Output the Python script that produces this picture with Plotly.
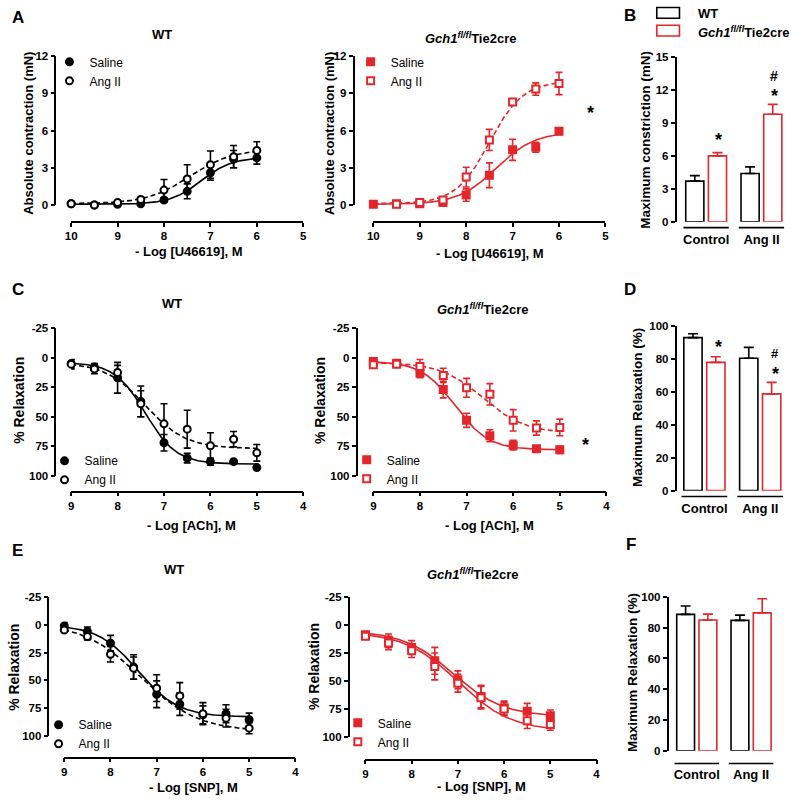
import numpy as np
import plotly.graph_objects as go

RED = '#E3262B'
BLK = '#000000'
FONT = 'Liberation Sans, Arial, sans-serif'
W, H = 800, 802

# ---------------- data ----------------
# Panel A : U46619 contraction (mN)
logU = [10, 9.5, 9, 8.5, 8, 7.5, 7, 6.5, 6]
A_wt_sal = [0.1, 0.0, 0.05, 0.1, 0.4, 1.1, 2.6, 3.7, 3.8]
A_wt_sal_err = [0.05, 0.05, 0.05, 0.05, 0.15, 0.6, 0.6, 0.7, 0.5]
A_wt_ang = [0.1, 0.0, 0.2, 0.45, 1.2, 2.1, 3.25, 3.9, 4.4]
A_wt_ang_err = [0.05, 0.05, 0.1, 0.15, 0.85, 1.15, 1.1, 0.9, 0.7]
A_ko_sal = [0.05, 0.1, 0.1, 0.2, 0.8, 2.4, 4.45, 4.65, 5.95]
A_ko_sal_err = [0.05, 0.05, 0.05, 0.1, 0.5, 1.0, 0.85, 0.4, 0.25]
logU_ko_ang = [9.5, 9, 8.5, 8, 7.5, 7, 6.5, 6]
A_ko_ang = [0.05, 0.2, 0.4, 2.25, 5.25, 8.3, 9.35, 9.8]
A_ko_ang_err = [0.05, 0.1, 0.2, 0.8, 0.85, 0.2, 0.5, 0.9]

# Panel C : ACh relaxation (%)
logACh = [9, 8.5, 8, 7.5, 7, 6.5, 6, 5.5, 5]
C_wt_sal = [5, 8, 17, 37, 72, 85, 88, 88, 93]
C_wt_sal_err = [3, 3, 13, 13, 7, 4, 3, 1, 1]
C_wt_ang = [5.5, 9.5, 12.5, 39, 56, 60.5, 74.5, 69, 80.5]
C_wt_ang_err = [4, 4, 6, 11, 17, 16, 11, 6.5, 7]
C_ko_sal = [3.3, 4.7, 13, 27, 53, 66, 74, 77, 78]
C_ko_sal_err = [2, 2, 4, 7, 6, 5, 4, 1, 3]
C_ko_ang = [6, 5.5, 7.5, 15, 25.5, 31, 53, 59.5, 59]
C_ko_ang_err = [3, 2, 6, 6, 8, 9, 9, 6, 7]

# Panel E : SNP relaxation (%)
logSNP = [9, 8.5, 8, 7.5, 7, 6.5, 6, 5.5, 5]
E_wt_sal = [1, 6, 16.5, 38, 62.5, 71.5, 81, 80, 85.5]
E_wt_sal_err = [3, 4, 7, 11, 12, 10, 8, 8, 6]
E_wt_ang = [4.7, 10.6, 26.5, 39, 57, 64, 80, 84, 93]
E_wt_ang_err = [2, 3, 7, 10, 12, 12, 10, 8, 5]
E_ko_sal = [8.8, 14, 20, 32, 49, 64, 74, 77, 81]
E_ko_sal_err = [3, 6, 6, 12, 8, 10, 6, 7, 5]
E_ko_ang = [10, 16, 23, 37, 52, 65, 75, 85.5, 89]
E_ko_ang_err = [3, 6, 6, 12, 8, 10, 6, 7, 5]

# fitted sigmoid parameters: (value at low conc, value at high conc, -logEC50, hill)
fit = {
    'A_wt_sal': (0.05, 3.85, 7.2, 1.3),
    'A_wt_ang': (0.1, 4.5, 7.45, 0.95),
    'A_ko_sal': (0.05, 5.9, 7.35, 1.05),
    'A_ko_ang': (0.1, 10.0, 7.5, 1.2),
    'C_wt_sal': (4, 90, 7.4, 1.3),
    'C_wt_ang': (4, 77, 7.4, 1.0),
    'C_ko_sal': (3, 78, 7.25, 1.2),
    'C_ko_ang': (4, 64, 6.65, 0.95),
    'E_wt_sal': (0, 83, 7.4, 1.0),
    'E_wt_ang': (-2, 96, 7.35, 0.7),
    'E_ko_sal': (5, 82, 7.1, 0.8),
    'E_ko_ang': (6, 95, 7.0, 0.75),
}

# Bar panels
groups = ['Control', 'Ang II']
B_wt = [3.7, 4.4];  B_wt_err = [0.5, 0.6]
B_ko = [6.0, 9.8];  B_ko_err = [0.3, 0.9]
D_wt = [93, 80.5];  D_wt_err = [2.4, 6.6]
D_ko = [78, 58.8];  D_ko_err = [3.4, 7]
F_wt = [88.7, 84.8]; F_wt_err = [5.5, 3.4]
F_ko = [85, 89.7];  F_ko_err = [3.9, 9.2]

KO_NAME = '<i>Gch1</i><sup><i>fl/fl</i></sup>Tie2cre'
relax_ticks = [-25, 0, 25, 50, 75, 100]
relax_labels = ['-25', '0', '25', '50', '75', '100']

# ---------------- helpers ----------------
def fx(px):
    return px / W

def fy(py):
    return 1 - py / H

def sigmoid(x, p):
    lo, hi, mid, h = p
    x = np.asarray(x, dtype=float)
    return lo + (hi - lo) / (1 + 10 ** ((x - mid) * h))

tickfont = dict(family=FONT, size=11.5, color=BLK, weight='bold')
axis_common = dict(showline=True, linecolor=BLK, linewidth=1.6, ticks='outside', ticklen=4,
                   tickwidth=1.6, tickcolor=BLK, showgrid=False, zeroline=False,
                   tickfont=tickfont)

fig = go.Figure()
layout = {}
annotations = []
shapes = []

def ann(text, xpx, ypx, size=13, bold=True, angle=0, color=BLK, xanchor='center'):
    annotations.append(dict(text=text, x=fx(xpx), y=fy(ypx), xref='paper', yref='paper',
                            showarrow=False, textangle=angle, xanchor=xanchor, yanchor='middle',
                            font=dict(family=FONT, size=size, color=color,
                                      weight='bold' if bold else 'normal')))

# ---------------- curve panels ----------------
panels = [
    dict(i=1, xr=[10, 5], xp=(66, 301), yr=[0, 12], yp=(202, 51), yax=50, xax=219,
         xt=[10, 9, 8, 7, 6, 5], yt=[0, 3, 6, 9, 12], col=BLK, sym='circle',
         s=(logU, A_wt_sal, A_wt_sal_err, 'A_wt_sal'), a=(logU, A_wt_ang, A_wt_ang_err, 'A_wt_ang'),
         cx=(10, 6), leg=(68, 63), ldy=-3, adash='5px,3px'),
    dict(i=2, xr=[10, 5], xp=(372, 607), yr=[0, 12], yp=(202, 51), yax=352, xax=219,
         xt=[10, 9, 8, 7, 6, 5], yt=[0, 3, 6, 9, 12], col=RED, sym='square',
         s=(logU, A_ko_sal, A_ko_sal_err, 'A_ko_sal'), a=(logU_ko_ang, A_ko_ang, A_ko_ang_err, 'A_ko_ang'),
         cx=(10, 6), leg=(373, 63), ldy=-3, adash='5px,3px'),
    dict(i=4, xr=[9, 4], xp=(66, 301), yr=[100, -25], yp=(477, 327), yax=50, xax=493,
         xt=[9, 8, 7, 6, 5, 4], yt=relax_ticks, col=BLK, sym='circle',
         s=(logACh, C_wt_sal, C_wt_sal_err, 'C_wt_sal'), a=(logACh, C_wt_ang, C_wt_ang_err, 'C_wt_ang'),
         cx=(9, 5), leg=(63, 460), ldy=5, adash='5px,3px'),
    dict(i=5, xr=[9, 4], xp=(372, 608), yr=[100, -25], yp=(477, 327), yax=355, xax=493,
         xt=[9, 8, 7, 6, 5, 4], yt=relax_ticks, col=RED, sym='square',
         s=(logACh, C_ko_sal, C_ko_sal_err, 'C_ko_sal'), a=(logACh, C_ko_ang, C_ko_ang_err, 'C_ko_ang'),
         cx=(9, 5), leg=(369, 459), ldy=5, adash='5px,3px'),
    dict(i=7, xr=[9, 4], xp=(59, 293), yr=[100, -25], yp=(741, 600), yax=43, xax=763,
         xt=[9, 8, 7, 6, 5, 4], yt=relax_ticks, col=BLK, sym='circle',
         s=(logSNP, E_wt_sal, E_wt_sal_err, 'E_wt_sal'), a=(logSNP, E_wt_ang, E_wt_ang_err, 'E_wt_ang'),
         cx=(9, 5), leg=(57, 725), ldy=8, adash='5px,3px'),
    dict(i=8, xr=[9, 4], xp=(364, 598), yr=[100, -25], yp=(742, 600), yax=347, xax=765,
         xt=[9, 8, 7, 6, 5, 4], yt=relax_ticks, col=RED, sym='square',
         s=(logSNP, E_ko_sal, E_ko_sal_err, 'E_ko_sal'), a=(logSNP, E_ko_ang, E_ko_ang_err, 'E_ko_ang'),
         cx=(9, 5), leg=(360, 723), ldy=8, adash='solid'),
]

legend_ids = {1: 'legend', 2: 'legend2', 4: 'legend3', 5: 'legend4', 7: 'legend5', 8: 'legend6'}

for p in panels:
    i = p['i']
    xa, ya = f'x{i}', f'y{i}'
    layout[f'xaxis{i}'] = dict(domain=[fx(p['xp'][0]), fx(p['xp'][1])], range=p['xr'],
                               anchor='free', position=fy(p['xax']), tickvals=p['xt'],
                               **axis_common)
    yextra = {}
    if p['yt'] == relax_ticks:
        yextra = dict(ticktext=relax_labels)
    layout[f'yaxis{i}'] = dict(domain=[fy(p['yp'][0]), fy(p['yp'][1])], range=p['yr'],
                               anchor='free', position=fx(p['yax']), tickvals=p['yt'],
                               **yextra, **axis_common)
    lg = legend_ids[i]
    cxs = np.linspace(p['cx'][0], p['cx'][1], 200)
    series = [('s', 'Saline', 'solid', True), ('a', 'Ang II', p['adash'], False)]
    for key, name, dash, filled in series:
        xs, ys, es, fk = p[key]
        fig.add_trace(go.Scatter(x=cxs, y=sigmoid(cxs, fit[fk]), mode='lines', xaxis=xa, yaxis=ya,
                                 line=dict(color=p['col'], width=1.6, dash=dash),
                                 showlegend=False, hoverinfo='skip', cliponaxis=False))
    for key, name, dash, filled in series:
        xs, ys, es, fk = p[key]
        fig.add_trace(go.Scatter(
            x=xs, y=ys, mode='markers', name=name, xaxis=xa, yaxis=ya, legend=lg,
            cliponaxis=False,
            marker=dict(symbol=p['sym'], size=7,
                        color=p['col'] if filled else 'white',
                        line=dict(color=p['col'], width=2)),
            error_y=dict(type='data', array=es, color=p['col'], thickness=1.6, width=3.5)))
    lx, ly = p['leg']
    layout[lg] = dict(x=fx(lx - 24), y=fy(ly - 18 + p['ldy']), xanchor='left', yanchor='top',
                      bgcolor='rgba(0,0,0,0)', borderwidth=0, tracegroupgap=0,
                      font=dict(family=FONT, size=12, color=BLK))

# ---------------- bar panels ----------------
bars = [
    dict(i=3, xp=(681, 793), yr=[0, 15], yp=(219, 52), yax=678, ul=225, yt=[0, 3, 6, 9, 12, 15],
         wt=(B_wt, B_wt_err), ko=(B_ko, B_ko_err)),
    dict(i=6, xp=(679, 792), yr=[0, 100], yp=(492, 325), yax=678, ul=498, yt=[0, 20, 40, 60, 80, 100],
         wt=(D_wt, D_wt_err), ko=(D_ko, D_ko_err)),
    dict(i=9, xp=(672, 782), yr=[0, 100], yp=(756, 600), yax=670, ul=769, yt=[0, 20, 40, 60, 80, 100],
         wt=(F_wt, F_wt_err), ko=(F_ko, F_ko_err)),
]
for b in bars:
    i = b['i']
    xa, ya = f'x{i}', f'y{i}'
    layout[f'xaxis{i}'] = dict(domain=[fx(b['xp'][0]), fx(b['xp'][1])], type='category',
                               range=[-0.5, 1.5], anchor='free', position=fy(b['ul']),
                               showline=False, ticks='', showgrid=False, zeroline=False,
                               ticklabelstandoff=2,
                               tickfont=dict(family=FONT, size=13, color=BLK, weight='bold'))
    layout[f'yaxis{i}'] = dict(domain=[fy(b['yp'][0]), fy(b['yp'][1])], range=b['yr'],
                               anchor='free', position=fx(b['yax']), tickvals=b['yt'],
                               **axis_common)
    for (vals, errs), col, name in [(b['wt'], BLK, 'WT'), (b['ko'], RED, KO_NAME)]:
        fig.add_trace(go.Bar(
            x=groups, y=vals, name=name, xaxis=xa, yaxis=ya,
            showlegend=False, cliponaxis=False,
            marker=dict(color='white', line=dict(color=col, width=1.6)),
            error_y=dict(type='data', symmetric=False, array=errs, arrayminus=[0] * len(errs),
                         color=col, thickness=1.6, width=5)))
    for g in range(2):
        shapes.append(dict(type='line', xref=xa, yref='paper', x0=g - 0.41, x1=g + 0.41,
                           y0=fy(b['ul']), y1=fy(b['ul']), line=dict(color=BLK, width=1.6)))

# genotype key for the bar panels
for name, col, yc in [('WT', BLK, 7), (KO_NAME, RED, 25)]:
    shapes.append(dict(type='rect', xref='paper', yref='paper', x0=fx(659), x1=fx(682),
                       y0=fy(yc - 5.5), y1=fy(yc + 5.5), line=dict(color=col, width=1.6),
                       fillcolor='white'))
    ann(name, 699, yc + 1, size=13, xanchor='left')

# ---------------- text ----------------
for t, x, y in [('A', 12, 12), ('B', 632, 10), ('C', 12, 288), ('D', 632, 288), ('E', 12, 553), ('F', 633, 547)]:
    ann(t, x, y, size=17)

ann('WT', 158, 29)
ann(KO_NAME, 470, 32)
ann('WT', 168, 302)
ann(KO_NAME, 483, 308)
ann('WT', 170, 572)
ann(KO_NAME, 472, 577)

ann('Absolute contraction (mN)', 22, 129, angle=-90, size=13)
ann('Absolute contraction (mN)', 327, 129, angle=-90, size=13)
ann('Maximum constriction (mN)', 648, 136, angle=-90, size=13.5)
ann('% Relaxation', 13, 400, angle=-90, size=14)
ann('% Relaxation', 318, 401, angle=-90, size=14)
ann('Maximum Relaxation (%)', 640, 408, angle=-90, size=13.5)
ann('% Relaxation', 8, 671, angle=-90, size=14)
ann('% Relaxation', 312, 671, angle=-90, size=14)
ann('Maximum Relaxation (%)', 635, 677, angle=-90, size=13.5)

ann('- Log [U46619], M', 185, 249)
ann('- Log [U46619], M', 490, 251)
ann('- Log [ACh], M', 188, 527)
ann('- Log [ACh], M', 490, 527)
ann('- Log [SNP], M', 190, 793)
ann('- Log [SNP], M', 482, 792)

# significance marks
ann('*', 592, 109, size=18)
ann('*', 587, 446, size=18)
ann('*', 722, 136, size=18)
ann('#', 778, 71, size=14)
ann('*', 778, 91, size=18)
ann('*', 722, 346, size=18)
ann('#', 779, 353, size=13)
ann('*', 779, 374, size=18)

fig.update_layout(**layout)
fig.update_layout(width=W, height=H, autosize=False, margin=dict(l=0, r=0, t=0, b=0),
                  plot_bgcolor='white', paper_bgcolor='white',
                  barmode='group', bargap=0.18, bargroupgap=0.2,
                  annotations=annotations, shapes=shapes,
                  font=dict(family=FONT, color=BLK))

fig.write_html('out.html', config={'displayModeBar': False},
               post_script="document.body.style.margin='0';document.body.style.padding='0';")
